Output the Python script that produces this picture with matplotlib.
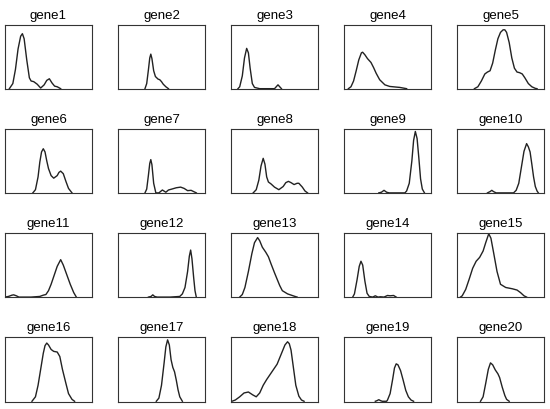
import matplotlib
matplotlib.use("Agg")
import matplotlib.pyplot as plt

# density curves, x and y as fractions of each panel
gene1_x = [0.05, 0.09, 0.12, 0.15, 0.18, 0.20, 0.22, 0.25, 0.28, 0.30, 0.33, 0.37, 0.41, 0.45, 0.48, 0.51, 0.54, 0.57, 0.60, 0.64]
gene1_y = [0.0, 0.08, 0.30, 0.62, 0.82, 0.86, 0.78, 0.45, 0.17, 0.12, 0.11, 0.07, 0.01, 0.06, 0.13, 0.155, 0.09, 0.04, 0.03, 0.0]

gene2_x = [0.31, 0.33, 0.35, 0.365, 0.377, 0.39, 0.41, 0.43, 0.46, 0.48, 0.50, 0.52, 0.55, 0.58]
gene2_y = [0.0, 0.08, 0.30, 0.48, 0.54, 0.47, 0.28, 0.19, 0.15, 0.14, 0.11, 0.07, 0.03, 0.0]

gene3_x = [0.08, 0.10, 0.13, 0.155, 0.18, 0.20, 0.22, 0.245, 0.27, 0.30, 0.33, 0.50, 0.52, 0.54, 0.56, 0.58]
gene3_y = [0.0, 0.03, 0.20, 0.48, 0.63, 0.56, 0.32, 0.08, 0.02, 0.01, 0.0, 0.0, 0.03, 0.06, 0.03, 0.0]

gene4_x = [0.05, 0.08, 0.11, 0.14, 0.17, 0.20, 0.214, 0.24, 0.27, 0.31, 0.34, 0.37, 0.41, 0.47, 0.525, 0.60, 0.64, 0.72]
gene4_y = [0.0, 0.03, 0.12, 0.28, 0.45, 0.56, 0.57, 0.53, 0.47, 0.41, 0.33, 0.24, 0.14, 0.06, 0.035, 0.025, 0.02, 0.0]

gene5_x = [0.20, 0.24, 0.28, 0.32, 0.35, 0.38, 0.41, 0.44, 0.47, 0.50, 0.53, 0.55, 0.57, 0.60, 0.63, 0.66, 0.69, 0.72, 0.75, 0.78, 0.82, 0.86, 0.90, 0.92]
gene5_y = [0.0, 0.03, 0.12, 0.23, 0.26, 0.28, 0.40, 0.60, 0.78, 0.88, 0.92, 0.92, 0.88, 0.72, 0.48, 0.32, 0.26, 0.25, 0.23, 0.17, 0.08, 0.03, 0.005, 0.0]

gene6_x = [0.32, 0.35, 0.38, 0.40, 0.42, 0.44, 0.46, 0.48, 0.50, 0.53, 0.56, 0.60, 0.62, 0.64, 0.67, 0.70, 0.73, 0.77]
gene6_y = [0.0, 0.05, 0.25, 0.48, 0.64, 0.69, 0.64, 0.50, 0.38, 0.27, 0.23, 0.27, 0.32, 0.34, 0.30, 0.18, 0.07, 0.0]

gene7_x = [0.31, 0.33, 0.35, 0.365, 0.377, 0.39, 0.41, 0.435, 0.47, 0.51, 0.55, 0.58, 0.62, 0.67, 0.72, 0.76, 0.80, 0.84, 0.87, 0.90]
gene7_y = [0.0, 0.06, 0.28, 0.46, 0.52, 0.44, 0.15, 0.0, 0.0, 0.045, 0.01, 0.045, 0.06, 0.08, 0.09, 0.07, 0.035, 0.04, 0.02, 0.0]

gene8_x = [0.255, 0.29, 0.32, 0.345, 0.37, 0.39, 0.41, 0.43, 0.46, 0.50, 0.55, 0.60, 0.63, 0.66, 0.69, 0.725, 0.76, 0.78, 0.82, 0.85, 0.88]
gene8_y = [0.0, 0.05, 0.20, 0.42, 0.54, 0.45, 0.25, 0.17, 0.14, 0.09, 0.05, 0.10, 0.16, 0.18, 0.16, 0.13, 0.15, 0.15, 0.09, 0.03, 0.0]

gene9_x = [0.40, 0.43, 0.46, 0.49, 0.52, 0.70, 0.72, 0.75, 0.78, 0.80, 0.82, 0.84, 0.86, 0.88, 0.90, 0.925]
gene9_y = [0.0, 0.01, 0.04, 0.01, 0.0, 0.0, 0.03, 0.15, 0.50, 0.82, 0.96, 0.85, 0.55, 0.22, 0.06, 0.0]

gene10_x = [0.35, 0.38, 0.40, 0.42, 0.45, 0.65, 0.68, 0.71, 0.74, 0.77, 0.80, 0.82, 0.84, 0.86, 0.88, 0.90, 0.92, 0.935]
gene10_y = [0.0, 0.02, 0.04, 0.02, 0.0, 0.0, 0.04, 0.15, 0.40, 0.65, 0.77, 0.72, 0.64, 0.45, 0.25, 0.10, 0.03, 0.0]

gene11_x = [0.0, 0.04, 0.08, 0.10, 0.13, 0.16, 0.30, 0.40, 0.44, 0.47, 0.50, 0.53, 0.56, 0.60, 0.64, 0.67, 0.71, 0.75, 0.79, 0.82]
gene11_y = [0.0, 0.01, 0.03, 0.035, 0.02, 0.0, 0.0, 0.01, 0.03, 0.04, 0.10, 0.20, 0.32, 0.48, 0.585, 0.50, 0.35, 0.20, 0.07, 0.0]

gene12_x = [0.35, 0.38, 0.40, 0.42, 0.45, 0.60, 0.71, 0.74, 0.77, 0.80, 0.82, 0.835, 0.85, 0.87, 0.885, 0.90]
gene12_y = [0.0, 0.01, 0.035, 0.01, 0.0, 0.0, 0.01, 0.05, 0.15, 0.40, 0.64, 0.735, 0.60, 0.30, 0.10, 0.0]

gene13_x = [0.10, 0.13, 0.16, 0.20, 0.24, 0.27, 0.306, 0.33, 0.36, 0.40, 0.43, 0.46, 0.50, 0.53, 0.56, 0.59, 0.65, 0.725, 0.76]
gene13_y = [0.0, 0.04, 0.15, 0.40, 0.68, 0.85, 0.93, 0.88, 0.78, 0.70, 0.63, 0.52, 0.38, 0.28, 0.18, 0.10, 0.05, 0.015, 0.0]

gene14_x = [0.10, 0.12, 0.15, 0.175, 0.195, 0.215, 0.24, 0.265, 0.29, 0.33, 0.36, 0.39, 0.42, 0.46, 0.50, 0.53, 0.57, 0.60]
gene14_y = [0.0, 0.05, 0.27, 0.48, 0.56, 0.50, 0.25, 0.06, 0.01, 0.0, 0.02, 0.0, 0.005, 0.0, 0.025, 0.02, 0.025, 0.0]

gene15_x = [0.04, 0.06, 0.10, 0.14, 0.18, 0.22, 0.26, 0.30, 0.33, 0.365, 0.39, 0.42, 0.46, 0.50, 0.56, 0.635, 0.69, 0.73, 0.77, 0.80]
gene15_y = [0.0, 0.02, 0.12, 0.28, 0.45, 0.56, 0.62, 0.72, 0.85, 0.99, 0.92, 0.70, 0.40, 0.20, 0.15, 0.13, 0.11, 0.07, 0.02, 0.0]

gene16_x = [0.31, 0.35, 0.38, 0.41, 0.44, 0.46, 0.48, 0.50, 0.53, 0.56, 0.60, 0.63, 0.66, 0.70, 0.73, 0.77, 0.80]
gene16_y = [0.0, 0.07, 0.25, 0.50, 0.75, 0.87, 0.91, 0.88, 0.81, 0.78, 0.77, 0.70, 0.50, 0.28, 0.12, 0.03, 0.0]

gene17_x = [0.44, 0.47, 0.50, 0.53, 0.55, 0.57, 0.59, 0.61, 0.63, 0.65, 0.67, 0.69, 0.71, 0.74]
gene17_y = [0.0, 0.05, 0.25, 0.60, 0.85, 0.96, 0.88, 0.65, 0.53, 0.46, 0.33, 0.18, 0.07, 0.0]

gene18_x = [0.01, 0.05, 0.10, 0.15, 0.20, 0.25, 0.29, 0.33, 0.37, 0.41, 0.45, 0.49, 0.53, 0.56, 0.59, 0.62, 0.65, 0.67, 0.69, 0.72, 0.745, 0.78, 0.81, 0.84]
gene18_y = [0.0, 0.02, 0.07, 0.13, 0.145, 0.10, 0.07, 0.13, 0.25, 0.34, 0.42, 0.50, 0.58, 0.68, 0.78, 0.88, 0.93, 0.90, 0.80, 0.50, 0.25, 0.08, 0.02, 0.0]

gene19_x = [0.36, 0.38, 0.40, 0.42, 0.44, 0.49, 0.50, 0.53, 0.56, 0.58, 0.60, 0.62, 0.65, 0.68, 0.71, 0.74, 0.77, 0.80]
gene19_y = [0.0, 0.01, 0.025, 0.01, 0.0, 0.0, 0.02, 0.12, 0.35, 0.52, 0.585, 0.57, 0.48, 0.33, 0.17, 0.07, 0.02, 0.0]

gene20_x = [0.27, 0.30, 0.33, 0.36, 0.385, 0.41, 0.44, 0.47, 0.49, 0.52, 0.55, 0.57, 0.60]
gene20_y = [0.0, 0.07, 0.28, 0.50, 0.60, 0.57, 0.49, 0.43, 0.37, 0.22, 0.09, 0.03, 0.0]

names = ["gene%d" % i for i in range(1, 21)]
xs = [gene1_x, gene2_x, gene3_x, gene4_x, gene5_x, gene6_x, gene7_x, gene8_x, gene9_x, gene10_x,
      gene11_x, gene12_x, gene13_x, gene14_x, gene15_x, gene16_x, gene17_x, gene18_x, gene19_x, gene20_x]
ys = [gene1_y, gene2_y, gene3_y, gene4_y, gene5_y, gene6_y, gene7_y, gene8_y, gene9_y, gene10_y,
      gene11_y, gene12_y, gene13_y, gene14_y, gene15_y, gene16_y, gene17_y, gene18_y, gene19_y, gene20_y]

W, H = 550, 410
fig = plt.figure(figsize=(W / 100, H / 100), dpi=100)
plt.rcParams['font.family'] = ['Liberation Sans', 'DejaVu Sans']

for i in range(20):
    r, c = divmod(i, 5)
    left = 5 + 113 * c
    top = 25.7 + 104.2 * r
    ax = fig.add_axes([left / W, 1 - (top + 64.3) / H, 87 / W, 64.3 / H])
    ax.plot(xs[i], ys[i], color='#222222', lw=1.0)
    ax.set_xlim(0, 1)
    ax.set_ylim(-0.005, 1.0)
    ax.set_xticks([])
    ax.set_yticks([])
    for s in ax.spines.values():
        s.set_linewidth(0.8)
        s.set_color('#333333')
    ax.set_title(names[i], fontsize=9.5, pad=5)

fig.savefig("out.png", dpi=100)
